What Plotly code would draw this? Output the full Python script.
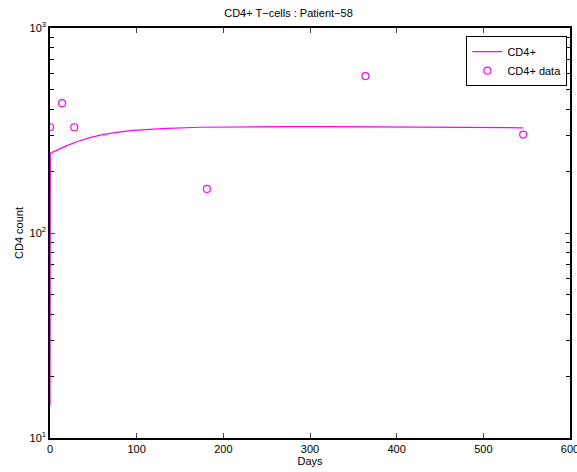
import plotly.graph_objects as go

# Model curve (days, CD4 count)
model_days = [0, 0.4, 5, 10, 19, 30, 45, 58, 75, 96, 115, 135, 173, 220, 270, 320, 380, 440, 500, 546]
model_cd4 = [14.5, 245, 250, 256, 266, 278, 291, 300, 309, 317, 321, 324, 328, 330, 330.5, 330, 329, 328, 327, 326]

# Observed data
data_days = [0, 14, 28, 181, 364, 546]
data_cd4 = [328, 430, 328, 164, 583, 302]

title_text = "CD4+ T\u2212cells : Patient\u221258"
x_ticks = [0, 100, 200, 300, 400, 500, 600]
y_ticks = [10, 100, 1000]
y_ticktext = ["10<sup>1</sup>", "10<sup>2</sup>", "10<sup>3</sup>"]

MAG = "#FF00FF"
fig = go.Figure()
fig.add_trace(go.Scatter(x=model_days, y=model_cd4, mode="lines", name="CD4+",
                         line=dict(color=MAG, width=1.2)))
fig.add_trace(go.Scatter(x=data_days, y=data_cd4, mode="markers", name="CD4+ data",
                         marker=dict(symbol="circle-open", size=7, color=MAG,
                                     line=dict(width=1.2, color=MAG))))

font = dict(family="Liberation Sans, Arial, sans-serif", size=11, color="black")
fig.update_layout(
    width=577, height=472,
    margin=dict(l=50, r=7, t=28, b=34),
    paper_bgcolor="white", plot_bgcolor="white",
    font=font,
    title=dict(text=title_text, x=0.5, xanchor="center", y=1 - 13/472, yanchor="middle",
               font=dict(size=11)),
    showlegend=True,
    legend=dict(x=0.995, y=0.98, xanchor="right", yanchor="top",
                bordercolor="black", borderwidth=1, bgcolor="white",
                font=dict(size=11), tracegroupgap=0, itemwidth=30),
    xaxis=dict(range=[0, 600], tickvals=x_ticks, ticks="inside", ticklen=5,
               showline=True, linecolor="black", linewidth=1.5, mirror="allticks",
               ticklabeloverflow="allow",
               showgrid=False, zeroline=False, layer="below traces", automargin=False,
               title=dict(text="Days", standoff=0, font=dict(size=11))),
    yaxis=dict(type="log", range=[1, 3], tickvals=y_ticks, ticktext=y_ticktext,
               ticks="inside", ticklen=5, ticklabeloverflow="allow",
               minor=dict(ticks="inside", ticklen=4, dtick="D1", showgrid=False, tickcolor="black"),
               showline=True, linecolor="black", linewidth=1.5, mirror="allticks",
               showgrid=False, zeroline=False, layer="below traces", automargin=False,
               title=dict(text="CD4 count", standoff=4, font=dict(size=11))),
)
fig.write_html("out.html", config={"displayModeBar": False},
               post_script="document.body.style.margin='0';")
